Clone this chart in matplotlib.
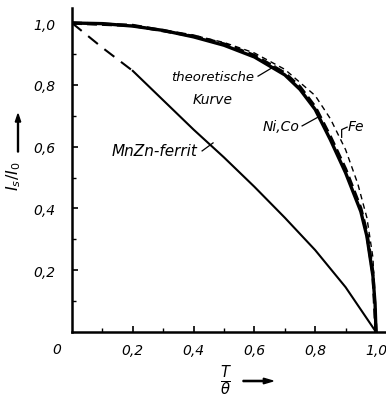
import matplotlib
matplotlib.use("Agg")
import matplotlib.pyplot as plt
import numpy as np

# ---- data ----
theo_x = [0, 0.1, 0.2, 0.3, 0.4, 0.5, 0.6, 0.7, 0.75, 0.8, 0.85, 0.9, 0.95, 0.97, 0.99, 0.997, 1.0]
theo_y = [1.0, 0.998, 0.99, 0.976, 0.955, 0.928, 0.89, 0.832, 0.785, 0.72, 0.622, 0.515, 0.39, 0.31, 0.18, 0.09, 0.0]

nico_x = [0, 0.2, 0.4, 0.5, 0.6, 0.7, 0.75, 0.8, 0.85, 0.9, 0.95, 0.97, 0.99, 1.0]
nico_y = [1.0, 0.992, 0.958, 0.932, 0.895, 0.838, 0.793, 0.728, 0.632, 0.527, 0.40, 0.32, 0.19, 0.0]

fe_x = [0, 0.2, 0.4, 0.5, 0.6, 0.7, 0.8, 0.85, 0.9, 0.94, 0.97, 0.99, 1.0]
fe_y = [1.0, 0.992, 0.96, 0.937, 0.903, 0.85, 0.765, 0.69, 0.59, 0.48, 0.37, 0.24, 0.0]

mnzn_x = [0, 0.1, 0.2, 0.3, 0.4, 0.5, 0.6, 0.7, 0.8, 0.9, 1.0]
mnzn_y = [1.0, 0.92, 0.845, 0.75, 0.655, 0.565, 0.47, 0.37, 0.265, 0.145, 0.0]
mnzn_dash_end = 2  # index where measured (dashed) part turns solid

xticks = [0.2, 0.4, 0.6, 0.8, 1.0]
xticklabels = ["0,2", "0,4", "0,6", "0,8", "1,0"]
yticks = [0.2, 0.4, 0.6, 0.8, 1.0]
yticklabels = ["0,2", "0,4", "0,6", "0,8", "1,0"]

FONT = dict(family="DejaVu Sans", style="italic")

W, H = 386, 402
fig = plt.figure(figsize=(W / 100, H / 100), dpi=100)
ax = fig.add_axes([72 / W, 69 / H, 314 / W, 324 / H])
ax.set_xlim(0, 314 / 304)
ax.set_ylim(0, 324 / 309)

# curves
ax.plot(theo_x, theo_y, color="black", lw=2.4, solid_capstyle="butt")
ax.plot(nico_x, nico_y, color="black", lw=2.4, ls=(0, (3, 1.5)))
ax.plot(fe_x, fe_y, color="black", lw=1.0, ls=(0, (4, 3)))
ax.plot(mnzn_x[:mnzn_dash_end + 1], mnzn_y[:mnzn_dash_end + 1], color="black",
        lw=1.5, ls=(0, (6, 4)))
ax.plot(mnzn_x[mnzn_dash_end:], mnzn_y[mnzn_dash_end:], color="black", lw=1.5)

# spines
for s in ["top", "right"]:
    ax.spines[s].set_visible(False)
for s in ["left", "bottom"]:
    ax.spines[s].set_linewidth(1.8)

ax.set_xticks(xticks)
ax.set_xticklabels(xticklabels, **FONT, fontsize=10)
ax.set_yticks(yticks)
ax.set_yticklabels(yticklabels, **FONT, fontsize=10)
ax.set_xticks([0.1, 0.3, 0.5, 0.7, 0.9], minor=True)
ax.set_yticks([0.1, 0.3, 0.5, 0.7, 0.9], minor=True)
ax.tick_params(which="major", direction="in", length=4, width=1.2)
ax.tick_params(which="minor", direction="in", length=3, width=1.0)
ax.tick_params(axis="y", which="major", pad=12)
ax.tick_params(axis="x", which="major", pad=8)

ax.text(-0.049, -0.055, "0", ha="center", va="center", fontsize=10, clip_on=False, **FONT)

# annotations
ax.text(0.464, 0.828, "theoretische", ha="center", va="center", fontsize=9.5, **FONT)
ax.text(0.464, 0.754, "Kurve", ha="center", va="center", fontsize=10, **FONT)
ax.plot([0.612, 0.668], [0.828, 0.861], color="black", lw=0.9)

ax.text(0.272, 0.586, "MnZn-ferrit", ha="center", va="center", fontsize=11, **FONT)
ax.plot([0.428, 0.464], [0.586, 0.612], color="black", lw=0.9)

ax.text(0.688, 0.667, "Ni,Co", ha="center", va="center", fontsize=10, **FONT)
ax.plot([0.757, 0.816], [0.667, 0.699], color="black", lw=0.9)

ax.text(0.934, 0.667, "Fe", ha="center", va="center", fontsize=10, **FONT)
ax.plot([0.887, 0.887, 0.905], [0.630, 0.655, 0.663], color="black", lw=0.9)

# axis labels
fig.text(14 / W, 1 - 176 / H, r"$I_s/I_0$", rotation=90, ha="center", va="center", fontsize=11.5)
fig.patches.append(matplotlib.patches.FancyArrow(
    18 / W, 1 - 153 / H, 0, 38 / H, width=0.0025, head_width=0.014, head_length=0.02,
    length_includes_head=True, color="black", transform=fig.transFigure, figure=fig))

fig.text(226 / W, 1 - 381 / H, r"$\frac{T}{\theta}$", ha="center", va="center", fontsize=15)
fig.patches.append(matplotlib.patches.FancyArrow(
    243 / W, 1 - 382 / H, 30 / W, 0, width=0.003, head_width=0.014, head_length=0.025,
    length_includes_head=True, color="black", transform=fig.transFigure, figure=fig))

fig.savefig("out.png", dpi=100)
